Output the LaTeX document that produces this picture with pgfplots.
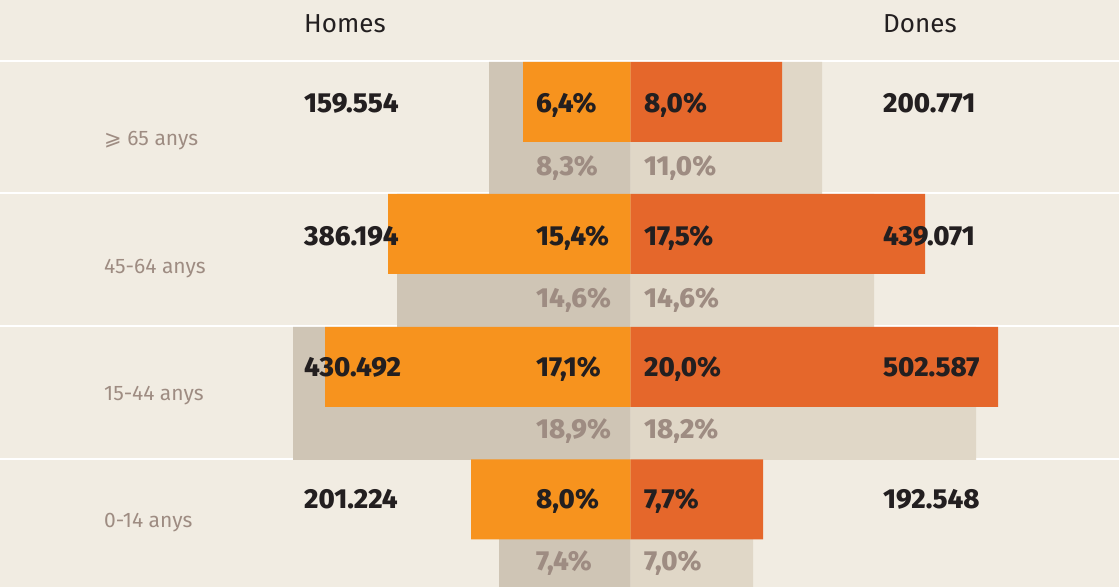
\documentclass[border=0pt]{standalone}
\usepackage{pgfplots}
\pgfplotsset{compat=1.18}
\usepackage{pgfplotstable}
\usepackage{fontspec}
\setmainfont{Fira Sans}[Numbers=Proportional]
\newfontfamily\xbfont{Fira Sans ExtraBold}[Numbers=Proportional]
\newfontfamily\symfont{DejaVu Sans}
\definecolor{bg}{HTML}{F1ECE2}
\definecolor{menO}{HTML}{F7931E}
\definecolor{womO}{HTML}{E5672B}
\definecolor{menB}{HTML}{CFC5B5}
\definecolor{womB}{HTML}{E0D7C7}
\definecolor{txtG}{HTML}{9E8C82}
\definecolor{txtK}{HTML}{231F20}
% bar lengths (px from the centre line); men to the left
\pgfplotstableread{
yo     yb     menO    womO   menB    womB
102    128.5  -107.5  151.5  -141.5  191.5
234    260.5  -242.5  294.5  -233.5  243.5
367    393.5  -305.5  367.5  -337.5  345.5
499.5  526.5  -159.5  132.5  -131.5  122.5
}\data
\begin{document}
\begin{tikzpicture}
\begin{axis}[
  width=1119pt, height=587pt, scale only axis,
  xmin=-630.5, xmax=488.5, ymin=0, ymax=587, y dir=reverse,
  axis line style={draw=none}, ticks=none,
  axis background/.style={fill=bg},
]
\draw[white, line width=2pt] (axis cs:-630.5,61) -- (axis cs:488.5,61);
\draw[white, line width=2pt] (axis cs:-630.5,193.5) -- (axis cs:488.5,193.5);
\draw[white, line width=2pt] (axis cs:-630.5,326.5) -- (axis cs:488.5,326.5);
\draw[white, line width=2pt] (axis cs:-630.5,459.5) -- (axis cs:488.5,459.5);
\addplot[xbar, bar shift=0, bar width=133, fill=menB, draw=none] table[x=menB, y=yb] {\data};
\addplot[xbar, bar shift=0, bar width=133, fill=womB, draw=none] table[x=womB, y=yb] {\data};
\addplot[xbar, bar shift=0, bar width=80, fill=menO, draw=none] table[x=menO, y=yo] {\data};
\addplot[xbar, bar shift=0, bar width=80, fill=womO, draw=none] table[x=womO, y=yo] {\data};
% headers
\node[anchor=base west, inner sep=0pt, font=\fontsize{26}{30}\selectfont, text=txtK] at (axis cs:-326.5,32) {Homes};
\node[anchor=base west, inner sep=0pt, font=\fontsize{26}{30}\selectfont, text=txtK] at (axis cs:252.5,32) {Dones};
% age labels
\begin{scope}[every node/.style={anchor=base west, inner sep=0pt, font=\fontsize{21}{24}\selectfont, text=txtG}]
\node at (axis cs:-526.5,146) {{\symfont ⩾} 65 anys};
\node at (axis cs:-526.5,274) {45-64 anys};
\node at (axis cs:-526.5,401) {15-44 anys};
\node at (axis cs:-526.5,528) {0-14 anys};
\end{scope}
% totals and current percentages
\begin{scope}[every node/.style={anchor=base west, inner sep=0pt, font=\fontsize{27.5}{30}\xbfont, text=txtK}]
\node at (axis cs:-326.5,113) {159.554};
\node at (axis cs:-326.5,245.5) {386.194};
\node at (axis cs:-326.5,377) {430.492};
\node at (axis cs:-326.5,509) {201.224};
\node at (axis cs:252.5,113) {200.771};
\node at (axis cs:252.5,245.5) {439.071};
\node at (axis cs:252.5,377) {502.587};
\node at (axis cs:252.5,509) {192.548};
\node at (axis cs:-94.5,113) {6,4\%};
\node at (axis cs:-94.5,245.5) {15,4\%};
\node at (axis cs:-94.5,377) {17,1\%};
\node at (axis cs:-94.5,509) {8,0\%};
\node at (axis cs:13.5,113) {8,0\%};
\node at (axis cs:13.5,245.5) {17,5\%};
\node at (axis cs:13.5,377) {20,0\%};
\node at (axis cs:13.5,509) {7,7\%};
\end{scope}
% reference-period percentages
\begin{scope}[every node/.style={anchor=base west, inner sep=0pt, font=\fontsize{27.5}{30}\xbfont, text=txtG}]
\node at (axis cs:-94.5,176) {8,3\%};
\node at (axis cs:-94.5,307.5) {14,6\%};
\node at (axis cs:-94.5,439) {18,9\%};
\node at (axis cs:-94.5,571) {7,4\%};
\node at (axis cs:13.5,176) {11,0\%};
\node at (axis cs:13.5,307.5) {14,6\%};
\node at (axis cs:13.5,439) {18,2\%};
\node at (axis cs:13.5,571) {7,0\%};
\end{scope}
\end{axis}
\end{tikzpicture}
\end{document}
